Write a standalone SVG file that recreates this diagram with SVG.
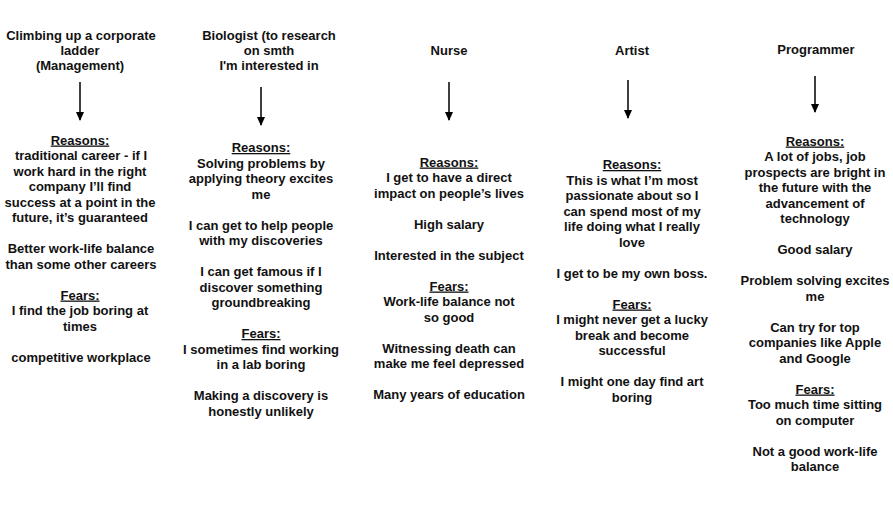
<svg xmlns="http://www.w3.org/2000/svg" width="893" height="530" viewBox="0 0 893 530">
<style>
text{font-family:"Liberation Sans",Arial,Helvetica,sans-serif;font-weight:bold;font-size:13px;fill:#111;text-anchor:middle}
.u{text-decoration:underline}
.conn line{stroke:#000;stroke-width:1.5}
</style>
<defs>
<marker id="ah" markerUnits="userSpaceOnUse" markerWidth="9" markerHeight="8" viewBox="0 0 9 8" refX="8" refY="4" orient="auto">
<path d="M0,0 L9,4 L0,8 Z" fill="#000"/>
</marker>
</defs>
<rect width="893" height="530" fill="#fff"/>

<g id="title-management">
<text x="81" y="39.5"><tspan x="81">Climbing up a corporate</tspan><tspan x="80" dy="15">ladder</tspan><tspan x="80" dy="15">(Management)</tspan></text>
</g>
<g id="body-management">
<text x="80" y="144.5"><tspan x="80" class="u">Reasons:</tspan><tspan x="81" dy="15.5">traditional career - if I</tspan><tspan x="80" dy="15.5">work hard in the right</tspan><tspan x="80" dy="15.5">company I’ll find</tspan><tspan x="80" dy="15.5">success at a point in the</tspan><tspan x="80" dy="15.5">future, it’s guaranteed</tspan><tspan x="81" dy="31">Better work-life balance</tspan><tspan x="81" dy="15.5">than some other careers</tspan><tspan x="80" dy="31" class="u">Fears:</tspan><tspan x="80" dy="15.5">I find the job boring at</tspan><tspan x="80" dy="15.5">times</tspan><tspan x="81" dy="31">competitive workplace</tspan></text>
</g>

<g id="title-biologist">
<text x="269" y="39.5"><tspan x="269">Biologist (to research</tspan><tspan x="269" dy="15">on smth</tspan><tspan x="269" dy="15">I'm interested in</tspan></text>
</g>
<g id="body-biologist">
<text x="261" y="152"><tspan x="261" class="u">Reasons:</tspan><tspan x="261" dy="15.5">Solving problems by</tspan><tspan x="261" dy="15.5">applying theory excites</tspan><tspan x="261" dy="15.5">me</tspan><tspan x="261" dy="31">I can get to help people</tspan><tspan x="261" dy="15.5">with my discoveries</tspan><tspan x="261" dy="31">I can get famous if I</tspan><tspan x="261" dy="15.5">discover something</tspan><tspan x="261" dy="15.5">groundbreaking</tspan><tspan x="261" dy="31" class="u">Fears:</tspan><tspan x="261" dy="15.5">I sometimes find working</tspan><tspan x="261" dy="15.5">in a lab boring</tspan><tspan x="261" dy="31">Making a discovery is</tspan><tspan x="261" dy="15.5">honestly unlikely</tspan></text>
</g>

<g id="title-nurse">
<text x="449" y="54.5">Nurse</text>
</g>
<g id="body-nurse">
<text x="449" y="166.5"><tspan x="449" class="u">Reasons:</tspan><tspan x="449" dy="15.5">I get to have a direct</tspan><tspan x="449" dy="15.5">impact on people’s lives</tspan><tspan x="449" dy="31">High salary</tspan><tspan x="449" dy="31">Interested in the subject</tspan><tspan x="449" dy="31" class="u">Fears:</tspan><tspan x="449" dy="15.5">Work-life balance not</tspan><tspan x="449" dy="15.5">so good</tspan><tspan x="449" dy="31">Witnessing death can</tspan><tspan x="449" dy="15.5">make me feel depressed</tspan><tspan x="449" dy="31">Many years of education</tspan></text>
</g>

<g id="title-artist">
<text x="632" y="54.5">Artist</text>
</g>
<g id="body-artist">
<text x="632" y="169"><tspan x="632" class="u">Reasons:</tspan><tspan x="632" dy="15.5">This is what I’m most</tspan><tspan x="632" dy="15.5">passionate about so I</tspan><tspan x="632" dy="15.5">can spend most of my</tspan><tspan x="632" dy="15.5">life doing what I really</tspan><tspan x="632" dy="15.5">love</tspan><tspan x="632" dy="31">I get to be my own boss.</tspan><tspan x="632" dy="31" class="u">Fears:</tspan><tspan x="632" dy="15.5">I might never get a lucky</tspan><tspan x="632" dy="15.5">break and become</tspan><tspan x="632" dy="15.5">successful</tspan><tspan x="632" dy="31">I might one day find art</tspan><tspan x="632" dy="15.5">boring</tspan></text>
</g>

<g id="title-programmer">
<text x="816" y="53.5">Programmer</text>
</g>
<g id="body-programmer">
<text x="815" y="145.5"><tspan x="815" class="u">Reasons:</tspan><tspan x="815" dy="15.5">A lot of jobs, job</tspan><tspan x="815" dy="15.5">prospects are bright in</tspan><tspan x="815" dy="15.5">the future with the</tspan><tspan x="815" dy="15.5">advancement of</tspan><tspan x="815" dy="15.5">technology</tspan><tspan x="815" dy="31">Good salary</tspan><tspan x="815" dy="31">Problem solving excites</tspan><tspan x="815" dy="15.5">me</tspan><tspan x="815" dy="31">Can try for top</tspan><tspan x="815" dy="15.5">companies like Apple</tspan><tspan x="815" dy="15.5">and Google</tspan><tspan x="815" dy="31" class="u">Fears:</tspan><tspan x="815" dy="15.5">Too much time sitting</tspan><tspan x="815" dy="15.5">on computer</tspan><tspan x="815" dy="31">Not a good work-life</tspan><tspan x="815" dy="15.5">balance</tspan></text>
</g>

<g id="connectors" class="conn">
<line x1="80" y1="82" x2="80" y2="120" marker-end="url(#ah)"/>
<line x1="261" y1="87" x2="261" y2="125" marker-end="url(#ah)"/>
<line x1="449" y1="82" x2="449" y2="120" marker-end="url(#ah)"/>
<line x1="628" y1="80" x2="628" y2="118" marker-end="url(#ah)"/>
<line x1="815" y1="76" x2="815" y2="112" marker-end="url(#ah)"/>
</g>
</svg>
